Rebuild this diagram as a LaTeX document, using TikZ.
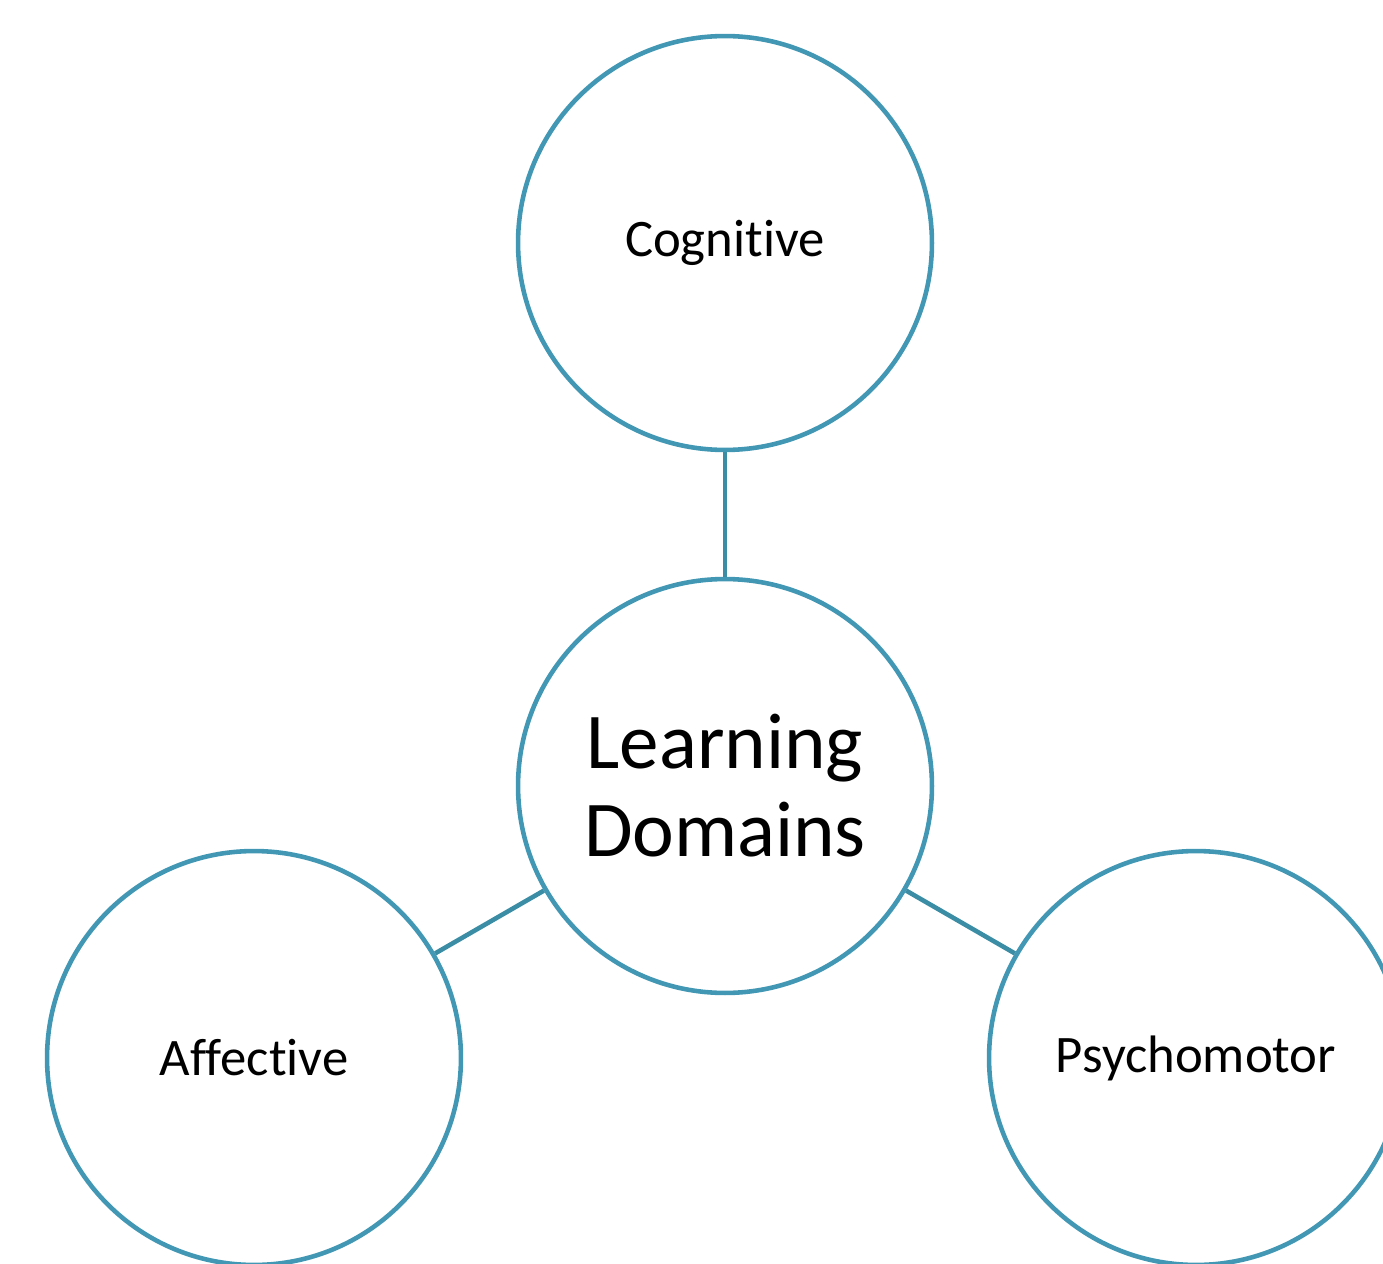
\documentclass[tikz,border=0pt]{standalone}
\usepackage{fontspec}
\setmainfont[Ligatures={NoCommon}]{Carlito}
\usepackage{xcolor}
\usepackage{tikz}

\definecolor{ringblue}{HTML}{4298B4}
\definecolor{linkblue}{HTML}{3A8DA5}

\begin{document}
\begin{tikzpicture}[x=0.02cm, y=-0.02cm,
        ring/.style={circle, draw=ringblue, line width=2.6pt, minimum size=8.28cm,
            inner sep=0pt, font=\fontsize{30}{36}\selectfont},
        link/.style={draw=linkblue, line width=2.6pt}]
        \clip (0,0) rectangle (1383,1264);
        \node[ring, align=center, font=\fontsize{45}{50}\selectfont] (ld) at (725,786) {Learning\\Domains};
        \node[ring] (cog) at (725,243) {Cognitive};
        \node[ring] (aff) at (254,1058) {Affective};
        \node[ring] (psy) at (1196,1058) {Psychomotor};
        \draw[link] (ld) -- (cog);
        \draw[link] (ld) -- (aff);
        \draw[link] (ld) -- (psy);
    \end{tikzpicture}
\end{document}
